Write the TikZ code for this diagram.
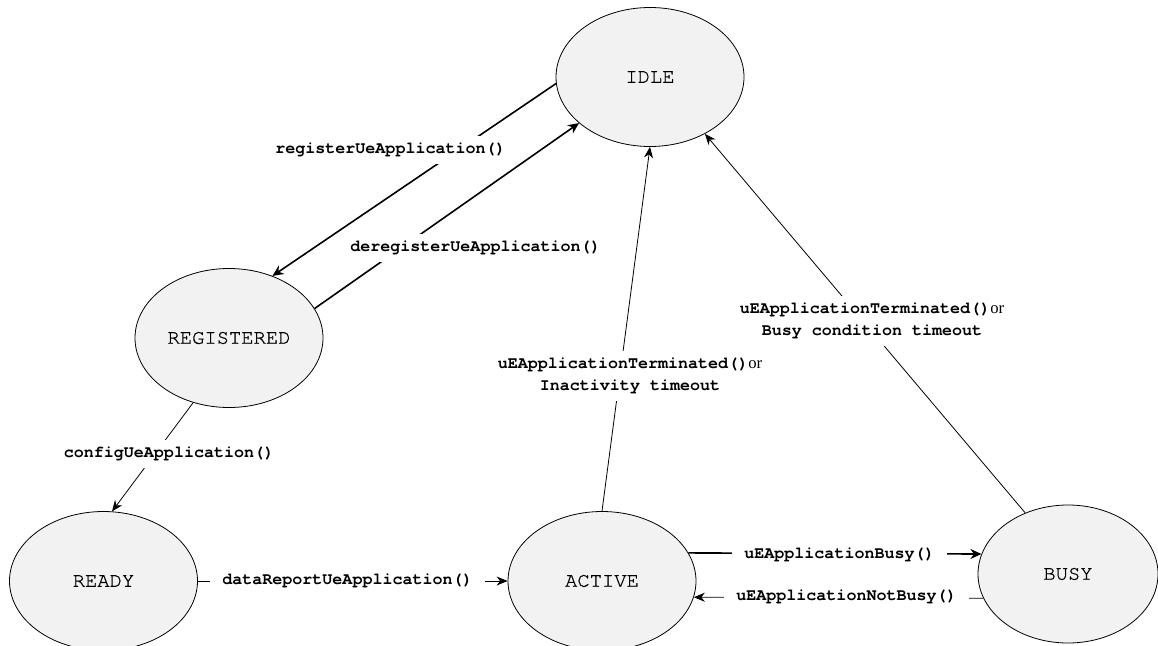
\documentclass[tikz,border=0pt]{standalone}
\usepackage{fontspec}
\setmainfont{Liberation Serif}
\setmonofont{TeX Gyre Cursor}[Ligatures=NoCommon]
\newfontfamily\statefont{TeX Gyre Cursor}[Ligatures=NoCommon,FakeBold=0.8]
\usetikzlibrary{arrows.meta,shapes.geometric}
\definecolor{statefill}{RGB}{242,242,242}
\tikzset{
  state/.style={ellipse, draw=black, line width=0.8pt, fill=statefill, inner sep=0pt,
    minimum width=188pt, minimum height=139pt,
    font=\fontsize{20.5}{24}\selectfont\statefont},
  lbl/.style={fill=white, inner xsep=12pt, inner ysep=6.5pt, align=center,
    font=\fontsize{16.7}{22}\selectfont\ttfamily\bfseries},
  thinedge/.style={line width=0.8pt, -{Stealth[length=11pt,width=9pt,inset=3.5pt]}},
  thickedge/.style={line width=1.6pt, -{Stealth[length=11pt,width=10pt,inset=3.5pt]}},
}
\begin{document}
\begin{tikzpicture}[x=1pt,y=-1pt]
\useasboundingbox (0,0) rectangle (1158,645);
\clip (0,0) rectangle (1158,645);
% states
\node[state] (idle) at (650,77) {IDLE};
\node[state] (reg) at (229,338) {REGISTERED};
\node[state] (ready) at (103.5,581) {READY};
\node[state] (active) at (602,581) {ACTIVE};
\node[state, minimum width=180pt, minimum height=138pt] (busy) at (1068,574) {BUSY};
% connectors
\draw[thickedge] (idle.184) -- (reg.55);
\draw[thickedge] (reg.19) -- (idle.213.7);
\draw[thinedge] (active.90) -- (idle.270);
\draw[thinedge] (busy.125.8) -- (idle.-46.5);
\draw[thinedge] (reg.241) -- (ready.83);
\draw[thinedge] (ready.0) -- (active.180);
\draw[thickedge] (active.18) -- (busy.167.8);
\draw[thinedge] (busy.196) -- (active.-10.6);
% labels
\node[lbl] (l1) at (390.5,150) {registerUeApplication()};
\node[lbl] (l2) at (475.5,248) {deregisterUeApplication()};
\node[lbl] (l3) at (630,376) {uEApplicationTerminated(){\mdseries\rmfamily or}\\Inactivity timeout};
\node[lbl] (l4) at (872,321) {uEApplicationTerminated(){\mdseries\rmfamily or}\\Busy condition timeout};
\node[lbl] (l5) at (169,454) {configUeApplication()};
\node[lbl] (l6) at (347.5,581) {dataReportUeApplication()};
\node[lbl] (l7) at (839.5,555) {uEApplicationBusy()};
\node[lbl] (l8) at (846.5,597) {uEApplicationNotBusy()};
\end{tikzpicture}
\end{document}
